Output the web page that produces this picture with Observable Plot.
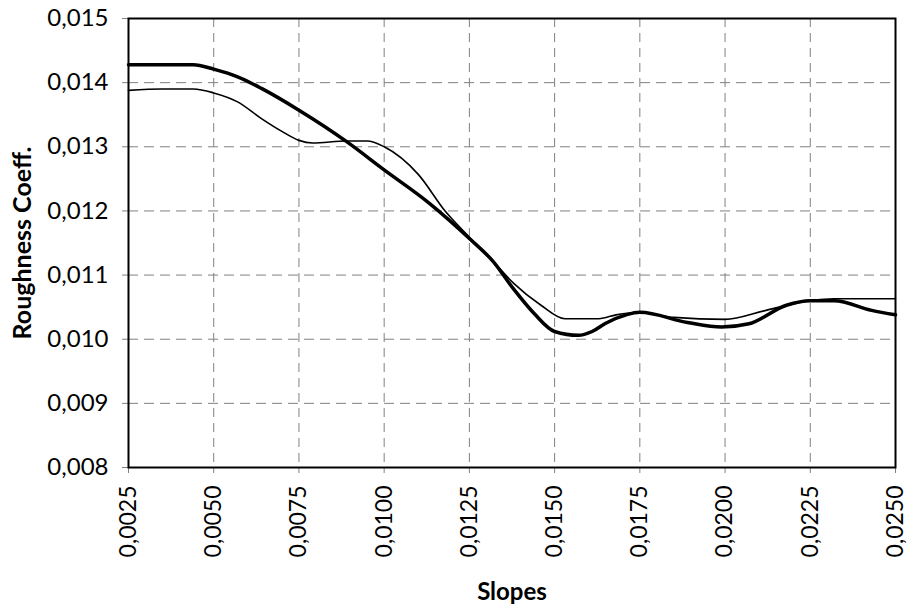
<!DOCTYPE html>
<html>
<head>
<meta charset="utf-8">
<script src="https://cdn.jsdelivr.net/npm/d3@7"></script>
<script src="https://cdn.jsdelivr.net/npm/@observablehq/plot@0.6"></script>
<style>
  html, body { margin: 0; padding: 0; background: #fff; }
</style>
</head>
<body>
<div id="chart"></div>
<script>
// Tick values
const xTicks = [0.0025, 0.0050, 0.0075, 0.0100, 0.0125, 0.0150, 0.0175, 0.0200, 0.0225, 0.0250];
const yTicks = [0.008, 0.009, 0.010, 0.011, 0.012, 0.013, 0.014, 0.015];

// Thick series
const thickSlopes = [0.0025, 0.0035, 0.0044, 0.0050, 0.0057, 0.0064, 0.0075, 0.0089, 0.0100, 0.0113, 0.0125, 0.0132, 0.0138, 0.0144, 0.0150, 0.0157, 0.0161, 0.0165, 0.0171, 0.0175, 0.0189, 0.0199, 0.0207, 0.0218, 0.0225, 0.0232, 0.0243, 0.0250];
const thickValues = [0.01428, 0.01428, 0.01428, 0.01421, 0.01409, 0.01391, 0.01357, 0.01308, 0.01264, 0.01213, 0.01157, 0.01121, 0.01078, 0.01040, 0.01012, 0.01006, 0.01012, 0.01025, 0.01038, 0.01042, 0.01026, 0.01019, 0.01024, 0.01053, 0.01060, 0.01060, 0.01045, 0.01038];

// Thin series
const thinSlopes = [0.0025, 0.0035, 0.0044, 0.0050, 0.0057, 0.0064, 0.0070, 0.0075, 0.0079, 0.0089, 0.0095, 0.0100, 0.0110, 0.0118, 0.0125, 0.0132, 0.0138, 0.0146, 0.0153, 0.0163, 0.0168, 0.0175, 0.0185, 0.0200, 0.0212, 0.0225, 0.0232, 0.0250];
const thinValues = [0.01388, 0.01390, 0.01390, 0.01384, 0.01370, 0.01344, 0.01324, 0.01310, 0.01306, 0.01309, 0.01309, 0.01300, 0.01257, 0.01199, 0.01159, 0.01121, 0.01087, 0.01053, 0.01032, 0.01032, 0.01038, 0.01042, 0.01034, 0.01031, 0.01045, 0.01060, 0.01063, 0.01063];

const thick = thickSlopes.map((s, i) => ({s, v: thickValues[i]}));
const thin = thinSlopes.map((s, i) => ({s, v: thinValues[i]}));

const fmt = (digits) => (d) => d3.format(`.${digits}f`)(d).replace(".", ",");
const gridColor = "#808080";

const chart = Plot.plot({
  width: 910,
  height: 605,
  marginLeft: 128,
  marginRight: 15,
  marginTop: 18,
  marginBottom: 138,
  style: {fontFamily: "Lato, 'Open Sans', sans-serif", background: "#fff", color: "black"},
  x: {domain: [0.0025, 0.025]},
  y: {domain: [0.008, 0.015]},
  marks: [
    Plot.gridX(xTicks, {stroke: gridColor, strokeOpacity: 1, strokeWidth: 1, strokeDasharray: "9,6"}),
    Plot.gridY(yTicks, {stroke: gridColor, strokeOpacity: 1, strokeWidth: 1, strokeDasharray: "10,6"}),
    Plot.axisX(xTicks, {tickFormat: fmt(4), tickRotate: -90, tickSize: 6, tickPadding: 12, fontSize: 23, stroke: gridColor, fill: "black", label: null}),
    Plot.axisY(yTicks, {tickFormat: fmt(3), tickSize: 6, tickPadding: 14, fontSize: 24, stroke: gridColor, fill: "black", label: null}),
    Plot.line(thin, {x: "s", y: "v", curve: "monotone-x", stroke: "black", strokeWidth: 1.6}),
    Plot.line(thick, {x: "s", y: "v", curve: "monotone-x", stroke: "black", strokeWidth: 3.5}),
    Plot.frame({stroke: "black", strokeWidth: 2}),
    Plot.text(["Slopes"], {frameAnchor: "bottom", dy: 125, text: d => d, fontSize: 24, fontWeight: "bold", lineAnchor: "middle", textAnchor: "middle", fill: "black"}),
    Plot.text(["Roughness Coeff."], {frameAnchor: "left", dx: -106, rotate: -90, text: d => d, fontSize: 25, fontWeight: "bold", lineAnchor: "middle", textAnchor: "middle", fill: "black"})
  ]
});
document.getElementById("chart").appendChild(chart);
</script>
</body>
</html>
